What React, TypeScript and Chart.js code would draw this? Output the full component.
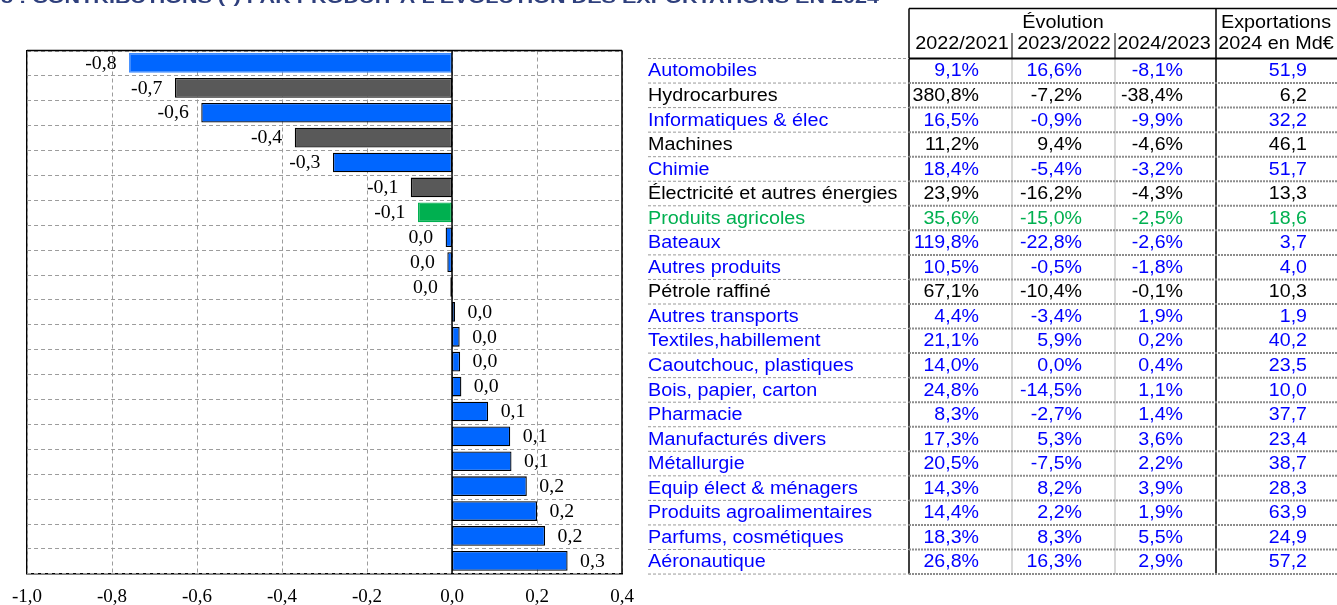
import React, { useEffect, useRef } from "react";
import { Chart, registerables } from "chart.js";

Chart.register(...registerables);

// ---------- data ----------
const categories = [
  "Automobiles",
  "Hydrocarbures",
  "Informatiques & élec",
  "Machines",
  "Chimie",
  "Électricité et autres énergies",
  "Produits agricoles",
  "Bateaux",
  "Autres produits",
  "Pétrole raffiné",
  "Autres transports",
  "Textiles,habillement",
  "Caoutchouc, plastiques",
  "Bois, papier, carton",
  "Pharmacie",
  "Manufacturés divers",
  "Métallurgie",
  "Equip élect & ménagers",
  "Produits agroalimentaires",
  "Parfums, cosmétiques",
  "Aéronautique",
];

const groups = [
  "blue", "black", "blue", "black", "blue", "black", "green", "blue", "blue", "black",
  "blue", "blue", "blue", "blue", "blue", "blue", "blue", "blue", "blue", "blue", "blue",
];

const contributions = [
  -0.76, -0.652, -0.59, -0.37, -0.28, -0.097, -0.08, -0.015, -0.011, -0.004,
  0.007, 0.018, 0.019, 0.022, 0.085, 0.137, 0.14, 0.176, 0.2, 0.219, 0.272,
];

const evol2022 = [9.1, 380.8, 16.5, 11.2, 18.4, 23.9, 35.6, 119.8, 10.5, 67.1, 4.4, 21.1, 14.0, 24.8, 8.3, 17.3, 20.5, 14.3, 14.4, 18.3, 26.8];
const evol2023 = [16.6, -7.2, -0.9, 9.4, -5.4, -16.2, -15.0, -22.8, -0.5, -10.4, -3.4, 5.9, 0.0, -14.5, -2.7, 5.3, -7.5, 8.2, 2.2, 8.3, 16.3];
const evol2024 = [-8.1, -38.4, -9.9, -4.6, -3.2, -4.3, -2.5, -2.6, -1.8, -0.1, 1.9, 0.2, 0.4, 1.1, 1.4, 3.6, 2.2, 3.9, 1.9, 5.5, 2.9];
const exports2024 = [51.9, 6.2, 32.2, 46.1, 51.7, 13.3, 18.6, 3.7, 4.0, 10.3, 1.9, 40.2, 23.5, 10.0, 37.7, 23.4, 38.7, 28.3, 63.9, 24.9, 57.2];

const axisMin = -1.0;
const axisMax = 0.4;
const axisStep = 0.2;

const headerEvolution = "Évolution";
const headerYears = ["2022/2021", "2023/2022", "2024/2023"];
const headerExports = ["Exportations", "2024 en Md€"];
const titleText = "GRAPHIQUE 5 : CONTRIBUTIONS (*) PAR PRODUIT À L'ÉVOLUTION DES EXPORTATIONS EN 2024";
const titleTail = "(*) PAR PRODUIT À L'ÉVOLUTION DES EXPORTATIONS EN 2024";

// ---------- styles ----------
const barFill: Record<string, string> = { blue: "#0066FF", black: "#595959", green: "#00B050" };
const barBorder: Record<string, string> = { blue: "#000000", black: "#000000", green: "#00B050" };
const textColor: Record<string, string> = { blue: "#0000FF", black: "#000000", green: "#00B050" };
const gridColor = "#9C9C9C";
const gridDash = [4, 3];

const fmt1 = (v: number) => {
  let s = v.toFixed(1);
  if (s === "-0.0") s = "0.0";
  return s.replace(".", ",");
};
const pct = (v: number) => fmt1(v) + "%";

function drawText(
  ctx: CanvasRenderingContext2D,
  s: string,
  x: number,
  y: number,
  align: "left" | "right" | "center",
  font: string,
  color: string,
  sx: number
) {
  ctx.save();
  ctx.font = font;
  ctx.fillStyle = color;
  ctx.textBaseline = "middle";
  ctx.textAlign = "left";
  const w = ctx.measureText(s).width * sx;
  const left = align === "left" ? x : align === "right" ? x - w : x - w / 2;
  ctx.translate(left, y);
  ctx.scale(sx, 1);
  ctx.fillText(s, 0, 0);
  ctx.restore();
}

function line(
  ctx: CanvasRenderingContext2D,
  x1: number, y1: number, x2: number, y2: number,
  color: string, width: number, dash: number[] = []
) {
  ctx.save();
  ctx.strokeStyle = color;
  ctx.lineWidth = width;
  ctx.setLineDash(dash);
  ctx.beginPath();
  ctx.moveTo(x1, y1);
  ctx.lineTo(x2, y2);
  ctx.stroke();
  ctx.restore();
}

// table layout
const T = {
  labelX: 648,
  col0: 909,
  col1: 1012,
  col2: 1115,
  col3: 1216,
  rightEdge: 1337,
  valRight: [979, 1082, 1183, 1307],
  headTop: 8.5,
  headMid: 33,
  top: 58.5,
  rowH: 24.55,
};

const gridPlugin = {
  id: "dashedGrid",
  beforeDatasetsDraw(chart: any) {
    const ctx: CanvasRenderingContext2D = chart.ctx;
    const { left, right, top, bottom } = chart.chartArea;
    const xs = chart.scales.x;
    const ys = chart.scales.y;
    xs.ticks.forEach((_t: any, i: number) => {
      const x = Math.round(xs.getPixelForTick(i)) + 0.5;
      line(ctx, x, top, x, bottom, gridColor, 1, gridDash);
    });
    for (let k = 0; k <= categories.length; k++) {
      const y = Math.round(ys.getPixelForValue(k - 0.5)) + 0.5;
      line(ctx, left, y, right, y, gridColor, 1, gridDash);
    }
  },
};

const overlayPlugin = {
  id: "overlay",
  afterDatasetsDraw(chart: any) {
    const ctx: CanvasRenderingContext2D = chart.ctx;
    const { left, right, top, bottom } = chart.chartArea;
    const xs = chart.scales.x;

    // zero line + top/right borders
    const x0 = xs.getPixelForValue(0);
    line(ctx, x0, top, x0, bottom, "#000", 1.5);
    line(ctx, left, top, right, top, "#000", 1.5);
    line(ctx, right, top, right, bottom, "#000", 1.5);

    // bar value labels
    const meta = chart.getDatasetMeta(0);
    const lblFont = "18px 'Liberation Serif'";
    meta.data.forEach((el: any, i: number) => {
      const p = el.getProps(["x", "y"], true);
      const v = contributions[i];
      if (v < 0) drawText(ctx, fmt1(v), p.x - 12.5, p.y + 1, "right", lblFont, "#000", 1.1);
      else drawText(ctx, fmt1(v), p.x + 12.5, p.y + 1, "left", lblFont, "#000", 1.1);
    });

    // title (mostly cut off at top)
    ctx.save();
    ctx.font = "bold 17px 'Liberation Sans'";
    const tailW = ctx.measureText(titleTail).width;
    const sxT = 661 / tailW;
    const fullW = ctx.measureText(titleText).width * sxT;
    ctx.fillStyle = "#2E3F7C";
    ctx.textBaseline = "alphabetic";
    ctx.translate(879 - fullW, 3.2);
    ctx.scale(sxT, 1);
    ctx.fillText(titleText, 0, 0);
    ctx.restore();

    // ---------- table ----------
    const bottomT = T.top + T.rowH * categories.length;
    line(ctx, T.col0, T.headTop, T.rightEdge, T.headTop, "#000", 1.5);
    line(ctx, T.col0, T.headTop, T.col0, bottomT, "#000", 1.5);
    line(ctx, T.col3, T.headTop, T.col3, bottomT, "#000", 1.5);
    line(ctx, T.col1, T.headMid, T.col1, T.top, "#000", 1);
    line(ctx, T.col2, T.headMid, T.col2, T.top, "#000", 1);
    line(ctx, T.col1, T.top, T.col1, bottomT, "#666", 1, [1, 1]);
    line(ctx, T.col2, T.top, T.col2, bottomT, "#666", 1, [1, 1]);

    for (let k = 1; k <= categories.length; k++) {
      const y = T.top + T.rowH * k;
      line(ctx, T.labelX, y, T.col0, y, "#9a9a9a", 1, [3, 2]);
      line(ctx, T.col0, y, T.rightEdge, y, "#8c8c8c", 2, [2, 1]);
    }
    line(ctx, T.labelX, T.top, T.col0, T.top, "#9a9a9a", 1, [3, 2]);
    line(ctx, T.col0, T.top, T.rightEdge, T.top, "#000", 2);

    const hFont = "18px 'Liberation Sans'";
    drawText(ctx, headerEvolution, 1063, 23.5, "center", hFont, "#000", 1.1);
    drawText(ctx, headerYears[0], 962, 44, "center", hFont, "#000", 1.1);
    drawText(ctx, headerYears[1], 1064, 44, "center", hFont, "#000", 1.1);
    drawText(ctx, headerYears[2], 1164, 44, "center", hFont, "#000", 1.1);
    drawText(ctx, headerExports[0], 1276, 23.5, "center", hFont, "#000", 1.1);
    drawText(ctx, headerExports[1], 1276, 44, "center", hFont, "#000", 1.1);

    const rFont = "17.5px 'Liberation Sans'";
    categories.forEach((c, i) => {
      const y = T.top + T.rowH * (i + 0.5) + 0.8;
      const col = textColor[groups[i]];
      drawText(ctx, c, T.labelX, y, "left", rFont, col, 1.13);
      drawText(ctx, pct(evol2022[i]), T.valRight[0], y, "right", rFont, col, 1.12);
      drawText(ctx, pct(evol2023[i]), T.valRight[1], y, "right", rFont, col, 1.12);
      drawText(ctx, pct(evol2024[i]), T.valRight[2], y, "right", rFont, col, 1.12);
      drawText(ctx, fmt1(exports2024[i]), T.valRight[3], y, "right", rFont, col, 1.12);
    });
  },
};

export default function App() {
  const ref = useRef<HTMLCanvasElement | null>(null);

  useEffect(() => {
    if (!ref.current) return;
    const chart = new Chart(ref.current, {
      type: "bar",
      data: {
        labels: categories,
        datasets: [
          {
            data: contributions,
            backgroundColor: groups.map((g) => barFill[g]),
            borderColor: groups.map((g, i) => (i === 0 ? "#3D8BFF" : barBorder[g])),
            borderWidth: 1.3,
            borderSkipped: false,
            categoryPercentage: 1,
            barPercentage: 0.79,
          },
        ],
      },
      options: {
        indexAxis: "y",
        animation: false,
        responsive: false,
        devicePixelRatio: 1,
        layout: { padding: { left: 24, top: 50.5, right: 715, bottom: 0 } },
        plugins: { legend: { display: false }, tooltip: { enabled: false }, title: { display: false } },
        scales: {
          x: {
            type: "linear",
            min: axisMin,
            max: axisMax,
            ticks: {
              stepSize: axisStep,
              callback: (v: any) => fmt1(Number(v)),
              color: "#000",
              font: { family: "'Liberation Serif'", size: 19 },
              padding: 12,
              maxRotation: 0,
              autoSkip: false,
            },
            grid: { display: false, drawTicks: false },
            border: { display: true, color: "#000", width: 1.5 },
            afterFit: (s: any) => {
              s.height = 31.7;
            },
          },
          y: {
            type: "category",
            ticks: { display: false },
            grid: { display: false, drawTicks: false, offset: true },
            border: { display: true, color: "#000", width: 1.5 },
            afterFit: (s: any) => {
              s.width = 0;
            },
          },
        },
      },
      plugins: [gridPlugin, overlayPlugin],
    } as any);
    return () => chart.destroy();
  }, []);

  return (
    <div style={{ position: "absolute", left: 0, top: 0, width: 1337, height: 605, background: "#fff" }}>
      <canvas ref={ref} width={1337} height={605} style={{ display: "block", width: 1337, height: 605 }} />
    </div>
  );
}
